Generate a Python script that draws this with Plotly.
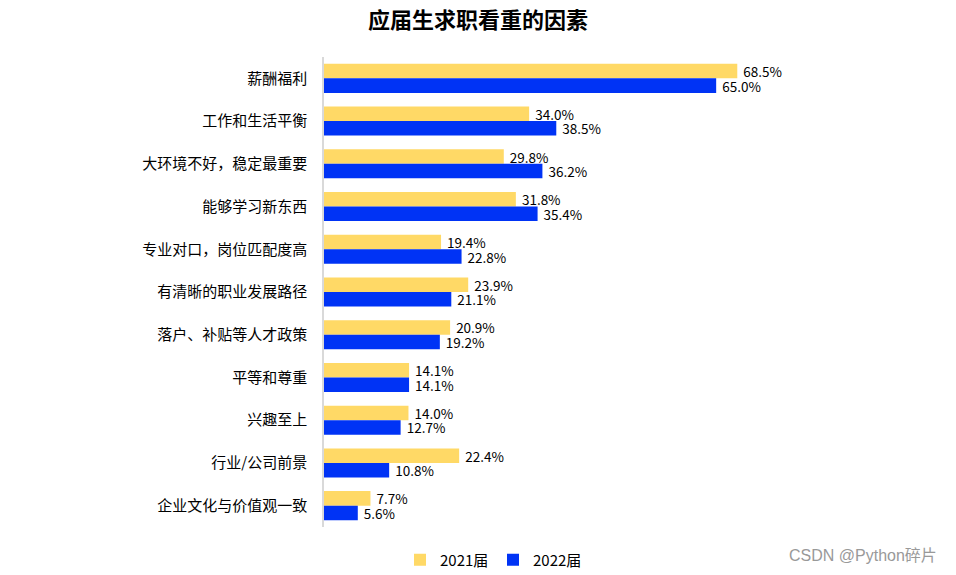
import plotly.graph_objects as go

categories = ["薪酬福利", "工作和生活平衡", "大环境不好，稳定最重要", "能够学习新东西",
              "专业对口，岗位匹配度高", "有清晰的职业发展路径", "落户、补贴等人才政策",
              "平等和尊重", "兴趣至上", "行业/公司前景", "企业文化与价值观一致"]
v2021 = [68.5, 34.0, 29.8, 31.8, 19.4, 23.9, 20.9, 14.1, 14.0, 22.4, 7.7]
v2022 = [65.0, 38.5, 36.2, 35.4, 22.8, 21.1, 19.2, 14.1, 12.7, 10.8, 5.6]

FONT = "Microsoft YaHei, Noto Sans CJK SC, sans-serif"

fig = go.Figure()
fig.add_trace(go.Bar(y=categories, x=v2021, name="2021届", orientation="h",
                     marker=dict(color="#FFD966", line=dict(width=0)),
                     texttemplate="\u00a0%{x:.1f}%", textposition="outside",
                     constraintext="none",
                     textfont=dict(size=13.5, color="#000000", family=FONT),
                     cliponaxis=False))
fig.add_trace(go.Bar(y=categories, x=v2022, name="2022届", orientation="h",
                     marker=dict(color="#0033F5", line=dict(width=0)),
                     texttemplate="\u00a0%{x:.1f}%", textposition="outside",
                     constraintext="none",
                     textfont=dict(size=13.5, color="#000000", family=FONT),
                     cliponaxis=False))

PH = 470.0
fig.update_layout(
    width=956, height=575,
    margin=dict(l=324, r=89, t=57, b=48, autoexpand=False),
    paper_bgcolor="white", plot_bgcolor="white",
    barmode="group", bargap=0.32, bargroupgap=0,
    font=dict(family=FONT, size=14, color="#000000"),
    title=dict(text="<b>应届生求职看重的因素</b>", x=0.5, xanchor="center",
               y=0.965, yanchor="middle", font=dict(size=22, color="#000000", family=FONT)),
    xaxis=dict(range=[0, 90], visible=False, showgrid=False, zeroline=False),
    yaxis=dict(autorange="reversed", showline=True, linecolor="#D9D9D9", linewidth=1.5,
               ticks="", ticklabelstandoff=12, tickfont=dict(size=15, color="#000000", family=FONT),
               showgrid=False),
    legend=dict(orientation="h", x=(400 - 324) / 543, xanchor="left", y=-(560 - 527) / PH, yanchor="middle",
                font=dict(size=15, color="#000000", family=FONT),
                itemwidth=30, entrywidth=48, entrywidthmode="pixels",
                traceorder="normal"),
    annotations=[dict(text="CSDN @Python碎片", xref="paper", yref="paper",
                      x=1 + 72/543, xanchor="right", y=-(555 - 527) / PH, yanchor="middle",
                      showarrow=False, font=dict(size=16, color="#999999", family="Arial, Liberation Sans, Noto Sans CJK SC"))],
)

fig.write_html("out.html")
